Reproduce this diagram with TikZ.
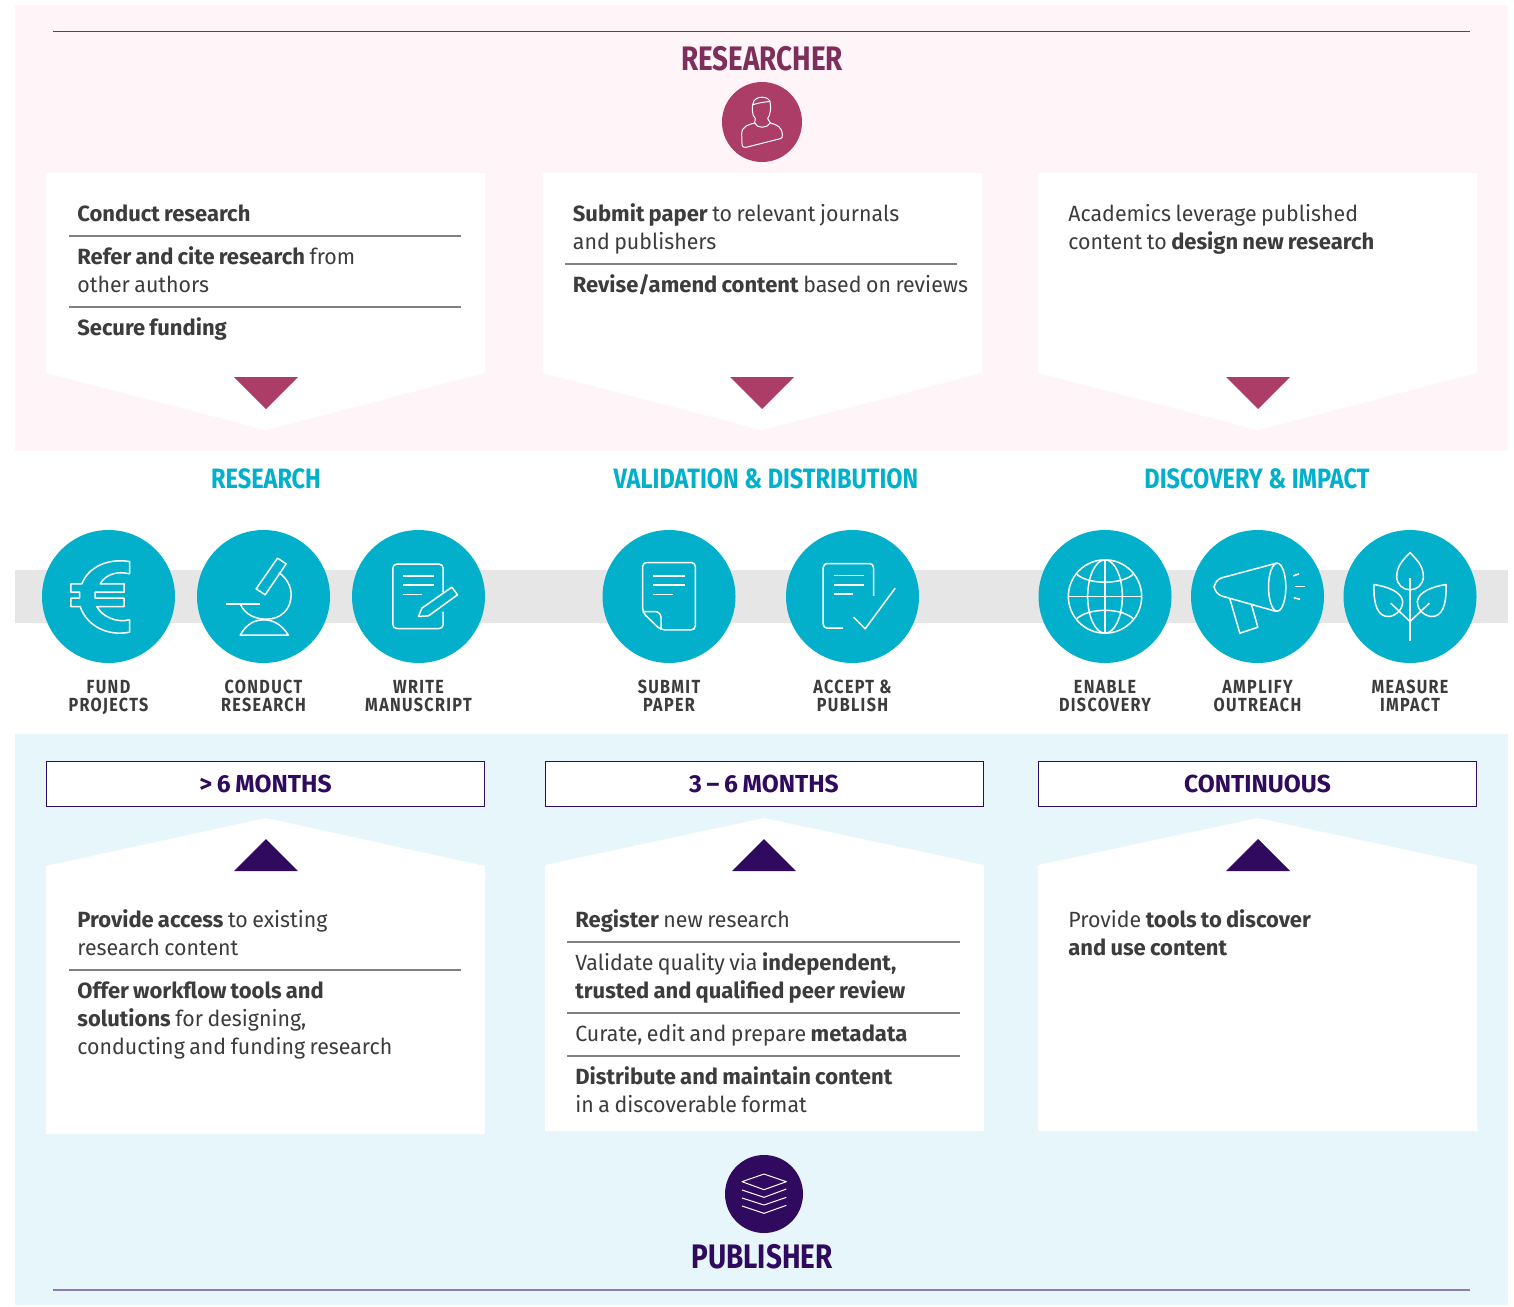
\documentclass[tikz,border=0pt]{standalone}
\usepackage{fontspec}
\setmainfont{Fira Sans}[WordSpace=0.8, UprightFeatures={FakeStretch=0.97}]
\newfontfamily\rolefont[FakeStretch=0.82]{Fira Sans}
\newfontfamily\stagefont[FakeStretch=0.84]{Fira Sans}
\newfontfamily\iconfont[FakeStretch=0.85, LetterSpace=7]{Fira Sans}
\definecolor{pinkbg}{RGB}{255, 245, 249}
\definecolor{bluebg}{RGB}{230, 246, 250}
\definecolor{band}{RGB}{230, 230, 230}
\definecolor{teal}{RGB}{2, 176, 204}
\definecolor{rose}{RGB}{172, 61, 102}
\definecolor{maroon}{RGB}{126, 46, 90}
\definecolor{violet}{RGB}{48, 10, 95}
\definecolor{lilac}{RGB}{140, 125, 175}
\definecolor{ink}{RGB}{60, 60, 60}
\tikzset{
  panel/.style={fill=white},
  rulegray/.style={draw=black!50, line width=0.6pt},
  paneltext/.style={anchor=north west, inner sep=0, align=left, text=ink,
    font=\fontsize{11}{14}\selectfont, execute at begin node=\strut},
  iconcircle/.style={circle, fill=teal, minimum size=66.5pt, inner sep=0},
  iconline/.style={draw=white, line width=0.75pt, line join=round},
  thinline/.style={draw=white, line width=0.5pt, line join=round},
  iconlabel/.style={align=center, text=ink, inner sep=0,
    font=\iconfont\bfseries\fontsize{9.5}{9}\selectfont,
    execute at begin node=\rule{0pt}{8pt}, execute at end node=\rule[-3pt]{0pt}{3pt}},
  stagelabel/.style={text=teal, inner sep=0, font=\stagefont\bfseries\fontsize{14}{16}\selectfont},
  rolelabel/.style={inner sep=0, font=\rolefont\bfseries\fontsize{17}{20}\selectfont},
  timebox/.style={draw=violet, fill=white, line width=0.5pt, text=violet, minimum width=219pt,
    minimum height=22.5pt, inner sep=0, font=\bfseries\fontsize{12.3}{14}\selectfont},
}

\begin{document}
\begin{tikzpicture}[x=0.5pt, y=-0.5pt]
  \useasboundingbox (0, 0) rectangle (1514, 1306);

  % backgrounds
  \fill [pinkbg] (15, 5) rectangle (1508, 451);
  \fill [bluebg] (15, 734) rectangle (1508, 1305);
  \fill [band] (15, 570) rectangle (1508, 623);

  % researcher side
  \draw [maroon, line width=0.5pt] (53, 31) -- (1470, 31);
  \node[rolelabel, text=maroon] (researcher) at (762, 58.5) {RESEARCHER};
  \node[circle, fill=rose, minimum size=40pt, inner sep=0] (researchericon) at (762, 122) {};
  \begin{scope}[shift={(researchericon.center)}, scale=1/3]
    \draw [thinline] (-22, 3) .. controls (-40, 8) and (-60, 12) .. (-61, 35) -- (-60, 65)
      .. controls (-60, 75) and (-55, 77) .. (-48, 76) -- (55, 50)
      .. controls (60, 48) and (61, 46) .. (61, 40) .. controls (61, 15) and (45, 8) .. (25, 3);
    \draw [thinline] (-22, 3) .. controls (-15, 20) and (15, 20) .. (25, 3);
    \draw [thinline] (-22, 3) -- (-20, -10) .. controls (-32, -22) and (-30, -48) .. (-27, -55)
      .. controls (-25, -80) and (25, -82) .. (25, -55) .. controls (27, -40) and (25, -22) .. (17, -10) -- (25, 3);
    \draw [thinline] (-27, -52) .. controls (-10, -58) and (10, -60) .. (25, -62);
  \end{scope}

  \fill [panel] (46, 173) -- (485, 173) -- (485, 373) -- (266, 430) -- (46, 373) -- cycle;
  \fill [panel] (543, 173) -- (982, 173) -- (982, 373) -- (762, 430) -- (543, 373) -- cycle;
  \fill [panel] (1038, 173) -- (1477, 173) -- (1477, 373) -- (1258, 430) -- (1038, 373) -- cycle;
  \fill [rose] (234, 377) -- (298, 377) -- (266, 409) -- cycle;
  \fill [rose] (730, 377) -- (794, 377) -- (762, 409) -- cycle;
  \fill [rose] (1226, 377) -- (1290, 377) -- (1258, 409) -- cycle;

  \node[paneltext] (conduct) at (77, 201) {\textbf{Conduct research}};
  \draw [rulegray] (69, 236) -- (461, 236);
  \node[paneltext] (refer) at (77, 246) {\textbf{Refer and cite research} from\\other authors};
  \draw [rulegray] (69, 307) -- (461, 307);
  \node[paneltext] (funding) at (77, 315) {\textbf{Secure funding}};

  \node[paneltext] (submit) at (572.5, 203) {\textbf{Submit paper} to relevant journals\\and publishers};
  \draw [rulegray] (565, 264) -- (957, 264);
  \node[paneltext] (revise) at (572.5, 272) {\textbf{Revise/amend content} based on reviews};

  \node[paneltext] (leverage) at (1068, 204) {Academics leverage published\\content to \textbf{design new research}};

  % stage headings
  \node[stagelabel] (research) at (266, 478.5) {RESEARCH};
  \node[stagelabel] (validation) at (766, 478.5) {VALIDATION \& DISTRIBUTION};
  \node[stagelabel] (discovery) at (1257, 478.5) {DISCOVERY \& IMPACT};

  % icon row
  \node[iconcircle] (fund) at (108.5, 596.5) {};
  \node[iconlabel] (fundlabel) at (108.5, 698.7) {FUND\\PROJECTS};
  \begin{scope}[shift={(fund.center)}, scale=1/3]
    \draw [iconline] (63, -105) -- (63, -68) .. controls (25, -78) and (-10, -65) .. (-25, -38) -- (47, -38)
      -- (47, -13) -- (-40, -13) -- (-40, 5) -- (47, 5) -- (47, 30) -- (-35, 30)
      .. controls (-20, 60) and (25, 80) .. (63, 70) -- (63, 107)
      .. controls (0, 120) and (-65, 90) .. (-85, 30) -- (-113, 30) -- (-113, 5) -- (-87, 5) -- (-87, -13)
      -- (-113, -13) -- (-113, -38) -- (-80, -38) .. controls (-60, -90) and (0, -115) .. (63, -105) -- cycle;
  \end{scope}

  \node[iconcircle] (lab) at (263.5, 596.5) {};
  \node[iconlabel] (lablabel) at (263.5, 698.7) {CONDUCT\\RESEARCH};
  \begin{scope}[shift={(lab.center)}, scale=1/3]
    \draw [iconline] (42, -115) -- (68, -98) -- (5, -5) -- (-22, -23) -- cycle;
    \draw [iconline] (46, -72) .. controls (70, -55) and (83, -30) .. (83, -5)
      .. controls (83, 40) and (50, 68) .. (10, 68) .. controls (-25, 68) and (-55, 55) .. (-70, 22);
    \draw [iconline] (-112, 22) -- (-12, 22);
    \draw [iconline] (-70, 116) .. controls (-50, 80) and (-25, 70) .. (2, 70)
      .. controls (30, 70) and (55, 85) .. (75, 116) -- cycle;
  \end{scope}

  \node[iconcircle] (manuscript) at (418.5, 596.5) {};
  \node[iconlabel] (manuscriptlabel) at (418.5, 698.7) {WRITE\\MANUSCRIPT};
  \begin{scope}[shift={(manuscript.center)}, scale=1/3]
    \draw [iconline, rounded corners=2pt] (74, -12) -- (74, -97) -- (-77, -97) -- (-77, 96) -- (74, 96) -- (74, 45);
    \draw [iconline] (-47, -62) -- (45, -62);
    \draw [iconline] (-47, -34) -- (45, -34);
    \draw [iconline] (-47, -6) -- (11, -6);
    \draw [iconline] (100, -28) -- (117, -5) -- (30, 58) -- (0, 60) -- (10, 35) -- cycle;
  \end{scope}

  \node[iconcircle] (paper) at (669, 596.5) {};
  \node[iconlabel] (paperlabel) at (669, 698.7) {SUBMIT\\PAPER};
  \begin{scope}[shift={(paper.center)}, scale=1/3]
    \draw [iconline, rounded corners=2pt] (-25, 100) -- (79, 100) -- (79, -102) -- (-79, -102) -- (-79, 48) -- cycle;
    \draw [iconline, rounded corners=3pt] (-79, 45) -- (-24, 45) -- (-24, 100);
    \draw [iconline] (-49, -62) -- (48, -62);
    \draw [iconline] (-49, -34) -- (48, -34);
    \draw [iconline] (-49, -6) -- (11, -6);
  \end{scope}

  \node[iconcircle] (publish) at (852.5, 596.5) {};
  \node[iconlabel] (publishlabel) at (852.5, 698.7) {ACCEPT \&\\PUBLISH};
  \begin{scope}[shift={(publish.center)}, scale=1/3]
    \draw [iconline, rounded corners=2pt] (63, -2) -- (63, -99) -- (-88, -99) -- (-88, 95) -- (-28, 95);
    \draw [iconline] (-57, -63) -- (35, -63);
    \draw [iconline] (-57, -35) -- (35, -35);
    \draw [iconline] (-57, -8) -- (1, -8);
    \draw [iconline] (3, 62) -- (38, 97) -- (128, -25);
  \end{scope}

  \node[iconcircle] (enable) at (1105, 596.5) {};
  \node[iconlabel] (enablelabel) at (1105, 698.7) {ENABLE\\DISCOVERY};
  \begin{scope}[shift={(enable.center)}, scale=1/3]
    \draw [iconline] (0, 0) circle [x radius=110, y radius=110];
    \draw [iconline] (0, 0) circle [x radius=52, y radius=110];
    \draw [iconline] (0, -110) -- (0, 110);
    \draw [iconline] (-110, 0) -- (110, 0);
    \draw [iconline] (-85, -67) .. controls (-50, -35) and (50, -35) .. (85, -67);
    \draw [iconline] (-85, 67) .. controls (-50, 33) and (50, 33) .. (85, 67);
  \end{scope}

  \node[iconcircle] (amplify) at (1257.5, 596.5) {};
  \node[iconlabel] (amplifylabel) at (1257.5, 698.7) {AMPLIFY\\OUTREACH};
  \begin{scope}[shift={(amplify.center)}, scale=1/3]
    \draw [iconline] (59, -28) circle [x radius=26, y radius=72];
    \draw [iconline, rounded corners=4pt] (57, -100) -- (-130, -50) -- (-130, -8) -- (57, 45);
    \draw [iconline] (-83, 7) -- (-53, 110) -- (1, 92) -- (-18, 25);
    \draw [iconline] (107, -62) -- (125, -68);
    \draw [iconline] (111, -30) -- (142, -30);
    \draw [iconline] (109, 4) -- (127, 8);
  \end{scope}

  \node[iconcircle] (measure) at (1410, 596.5) {};
  \node[iconlabel] (measurelabel) at (1410, 698.7) {MEASURE\\IMPACT};
  \begin{scope}[shift={(measure.center)}, scale=1/3]
    \draw [iconline] (0, -55) -- (0, 132);
    \draw [iconline] (0, -132) .. controls (-15, -115) and (-40, -95) .. (-40, -60)
      .. controls (-40, -35) and (-20, -20) .. (0, -20) .. controls (20, -20) and (40, -35) .. (40, -60)
      .. controls (40, -95) and (15, -115) .. (0, -132) -- cycle;
    \draw [iconline] (-108, -36) .. controls (-70, -30) and (-25, -15) .. (-22, 15)
      .. controls (-22, 45) and (-50, 60) .. (-65, 60) .. controls (-95, 60) and (-110, 30) .. (-108, -36) -- cycle;
    \draw [iconline] (108, -36) .. controls (70, -30) and (25, -15) .. (22, 15)
      .. controls (22, 45) and (50, 60) .. (65, 60) .. controls (95, 60) and (110, 30) .. (108, -36) -- cycle;
    \draw [iconline] (-58, 20) -- (0, 75) -- (58, 20);
  \end{scope}

  % publisher side
  \node[timebox] (longtime) at (265.5, 783.5) {> 6 MONTHS};
  \node[timebox] (midtime) at (764, 783.5) {3 -- 6 MONTHS};
  \node[timebox] (contime) at (1257.5, 783.5) {CONTINUOUS};

  \fill [panel] (46, 866) -- (266, 818) -- (485, 866) -- (485, 1134) -- (46, 1134) -- cycle;
  \fill [panel] (545, 865) -- (764, 818) -- (984, 865) -- (984, 1131) -- (545, 1131) -- cycle;
  \fill [panel] (1038, 865) -- (1258, 818) -- (1477, 865) -- (1477, 1131) -- (1038, 1131) -- cycle;
  \fill [violet] (234, 871) -- (298, 871) -- (266, 839) -- cycle;
  \fill [violet] (732, 871) -- (796, 871) -- (764, 839) -- cycle;
  \fill [violet] (1226, 871) -- (1290, 871) -- (1258, 839) -- cycle;

  \node[paneltext] (access) at (77, 909) {\textbf{Provide access} to existing\\research content};
  \draw [rulegray] (69, 970) -- (461, 970);
  \node[paneltext] (workflow) at (77, 981) {\textbf{Offer workflow tools and}\\\textbf{solutions} for designing,\\conducting and funding research};

  \node[paneltext] (register) at (575, 907) {\textbf{Register} new research};
  \draw [rulegray] (567, 942) -- (960, 942);
  \node[paneltext] (validate) at (575, 952) {Validate quality via \textbf{independent,}\\\textbf{trusted and qualified peer review}};
  \draw [rulegray] (567, 1013) -- (960, 1013);
  \node[paneltext] (curate) at (575, 1021) {Curate, edit and prepare \textbf{metadata}};
  \draw [rulegray] (567, 1056) -- (960, 1056);
  \node[paneltext] (distribute) at (575, 1066) {\textbf{Distribute and maintain content}\\in a discoverable format};

  \node[paneltext] (tools) at (1068, 909) {Provide \textbf{tools to discover}\\\textbf{and use content}};

  \node[circle, fill=violet, minimum size=39pt, inner sep=0] (publishericon) at (764, 1194) {};
  \begin{scope}[shift={(publishericon.center)}, scale=1/3]
    \draw [thinline] (0, -60) -- (67, -37) -- (0, -13) -- (-66, -37) -- cycle;
    \draw [thinline] (-66, -12) -- (0, 10) -- (67, -15);
    \draw [thinline] (-66, 12) -- (0, 33) -- (67, 10);
    \draw [thinline] (-66, 36) -- (0, 58) -- (67, 34);
  \end{scope}
  \node[rolelabel, text=violet] (publisher) at (762, 1257) {PUBLISHER};
  \draw [lilac, line width=0.75pt] (53, 1290) -- (1470, 1290);
\end{tikzpicture}
\end{document}
